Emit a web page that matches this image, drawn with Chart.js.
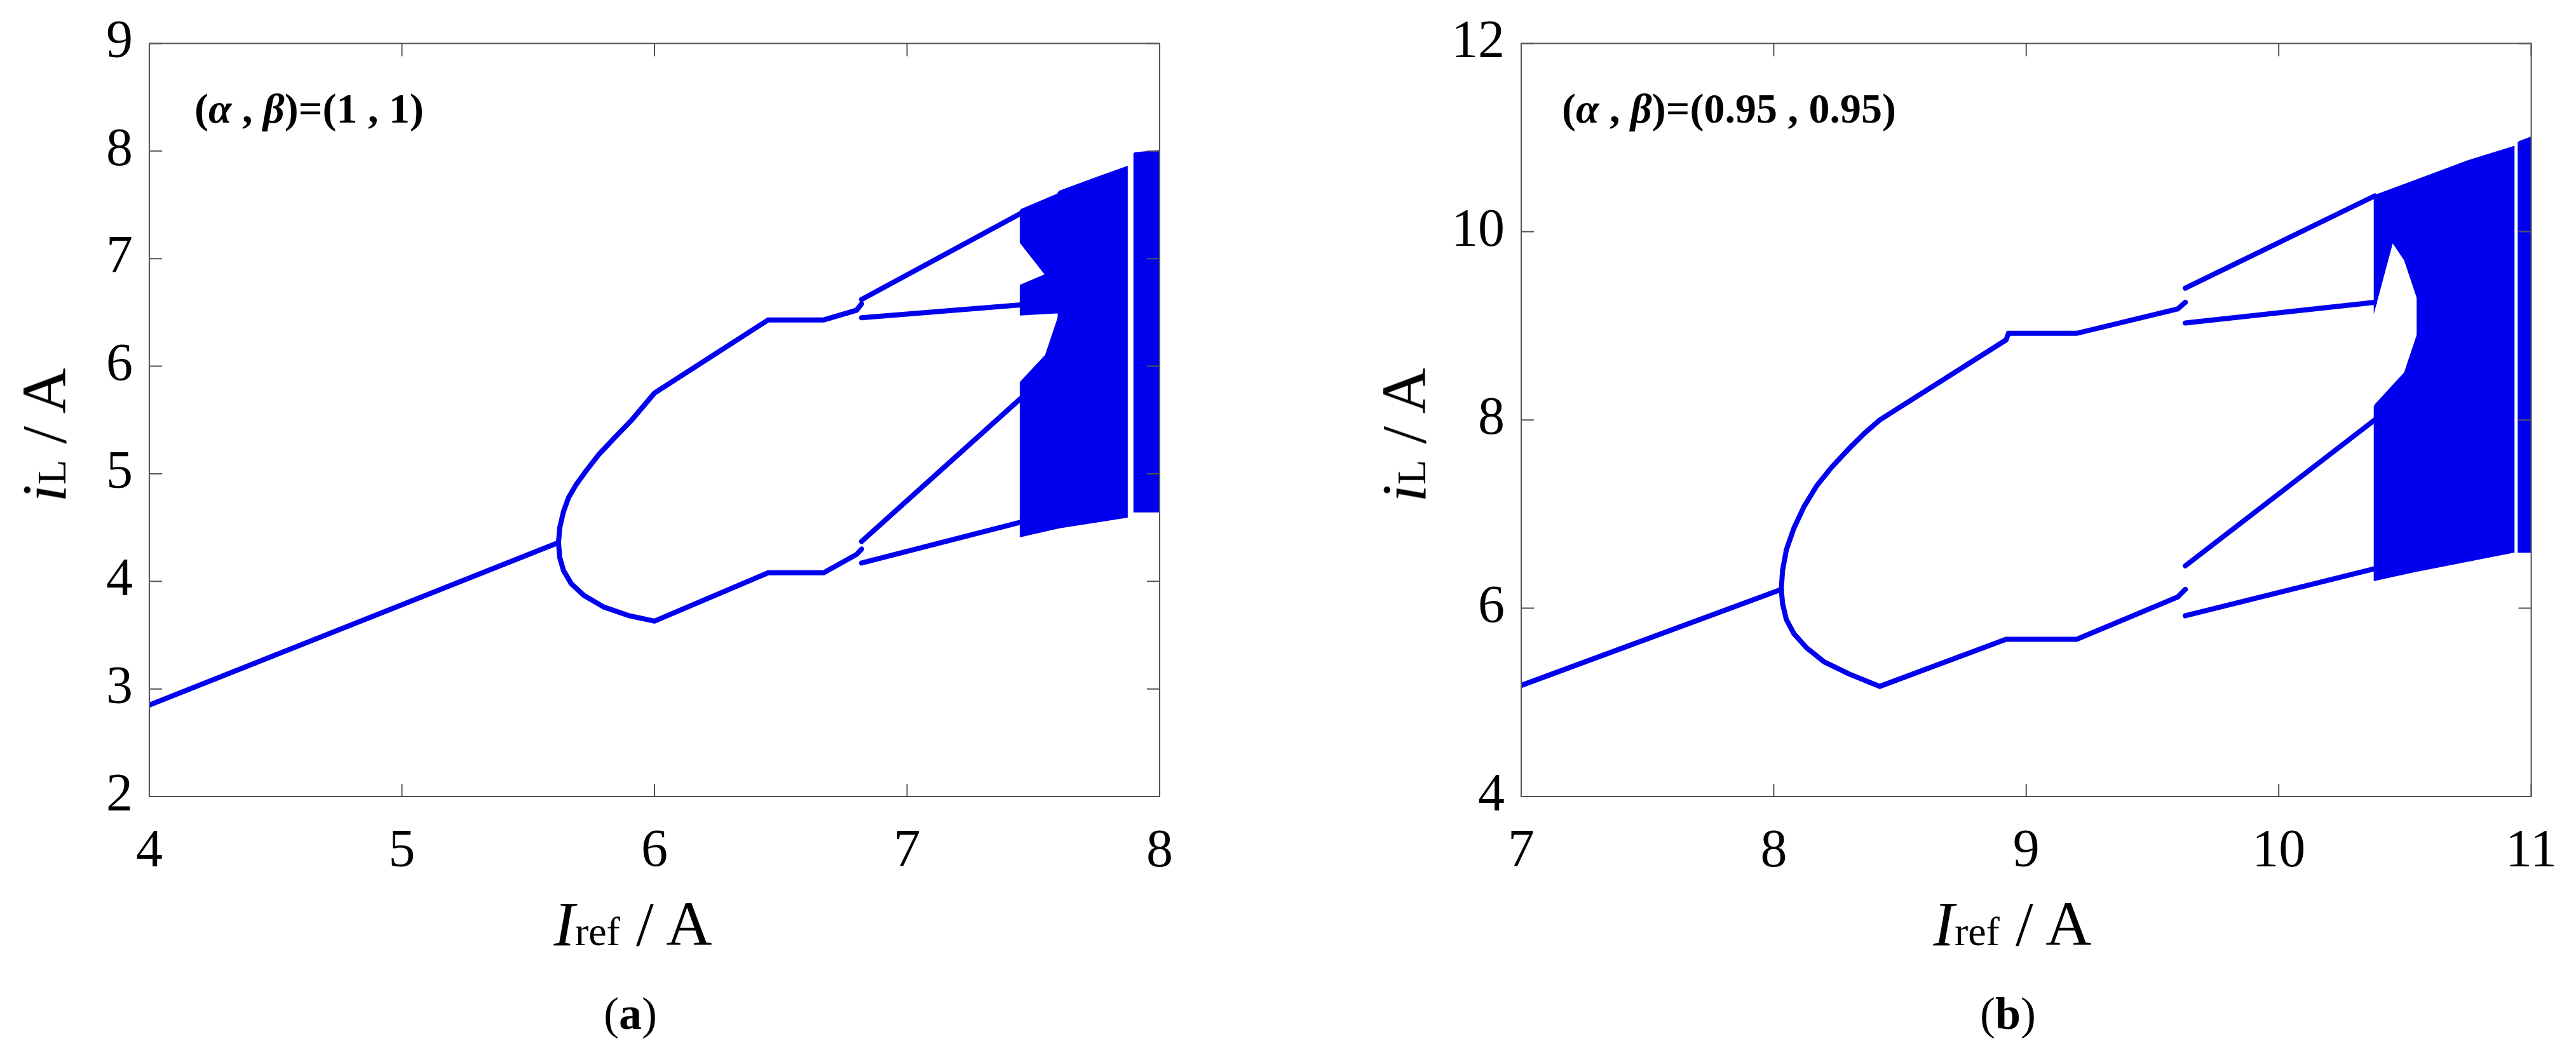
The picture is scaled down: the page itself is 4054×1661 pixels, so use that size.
<!DOCTYPE html>
<html>
<head>
<meta charset="utf-8">
<script src="https://cdn.jsdelivr.net/npm/chart.js@4.4.1/dist/chart.umd.min.js"></script>
<style>
  body { margin: 0; width: 4054px; height: 1661px; background: #fff; position: relative; overflow: hidden;
         font-family: "Liberation Serif", "DejaVu Serif", serif; }
  .panel { position: absolute; top: 0; height: 1400px; }
  .lbl { position: absolute; white-space: nowrap; color: #000; line-height: 1; }
  .xt { font-size: 100px; transform: translateX(-50%); }
  .yt { font-size: 100px; transform: translate(-50%, -50%) rotate(-90deg); }
  .sub { font-size: 64px; }
  .cap { font-size: 72px; transform: translateX(-50%); }
  .ann { font-size: 66px; font-weight: bold; }
</style>
</head>
<body>
<div class="panel" style="left:0;width:1876px"><canvas id="chartA"></canvas></div>
<div class="panel" style="left:2027px;width:2027px"><canvas id="chartB"></canvas></div>

<div class="lbl yt" style="left:70px;top:685px"><i>i</i><span class="sub">L</span> / A</div>
<div class="lbl xt" style="left:996px;top:1405px"><i>I</i><span class="sub">ref</span> / A</div>
<div class="lbl cap" style="left:992px;top:1560px">(<b>a</b>)</div>
<div class="lbl ann" style="left:306px;top:138px">(<i>α</i> , <i>β</i>)=(1 , 1)</div>

<div class="lbl yt" style="left:2210px;top:685px"><i>i</i><span class="sub">L</span> / A</div>
<div class="lbl xt" style="left:3167px;top:1405px"><i>I</i><span class="sub">ref</span> / A</div>
<div class="lbl cap" style="left:3160px;top:1560px">(<b>b</b>)</div>
<div class="lbl ann" style="left:2458px;top:138px">(<i>α</i> , <i>β</i>)=(0.95 , 0.95)</div>

<script>
// ---- panel (a): alpha = beta = 1 ----
const aXTicks = [4, 5, 6, 7, 8];
const aYTicks = [2, 3, 4, 5, 6, 7, 8, 9];
const aPeriod1 = [[4, 2.85], [5.62, 4.36]];
const aUpper = [[5.62, 4.36], [5.625, 4.5], [5.64, 4.65], [5.66, 4.78], [5.69, 4.9], [5.73, 5.03], [5.78, 5.18], [5.84, 5.33], [5.91, 5.5], [6.0, 5.75], [6.45, 6.43], [6.67, 6.43], [6.8, 6.52], [6.82, 6.58]];
const aLower = [[5.62, 4.36], [5.625, 4.22], [5.64, 4.1], [5.67, 3.98], [5.72, 3.87], [5.8, 3.76], [5.9, 3.68], [6.0, 3.63], [6.45, 4.08], [6.67, 4.08], [6.8, 4.25], [6.82, 4.3]];
const aUU = [[6.82, 6.62], [7.45, 7.42]];
const aUL = [[6.82, 6.45], [7.45, 6.57]];
const aLU = [[6.82, 4.37], [7.45, 5.7]];
const aLL = [[6.82, 4.17], [7.45, 4.55]];
const aChaos1 = [[7.45, 7.45], [7.6, 7.6], [7.6, 6.5], [7.45, 6.48], [7.45, 6.75], [7.55, 6.85], [7.45, 7.15]];
const aChaos2 = [[7.45, 5.85], [7.55, 6.1], [7.6, 6.45], [7.6, 4.5], [7.45, 4.42]];
const aChaos3 = [[7.6, 7.62], [7.75, 7.75], [7.87, 7.85], [7.87, 4.6], [7.6, 4.5]];
const aChaos4 = [[7.9, 7.98], [8.0, 8.0], [8.0, 4.65], [7.9, 4.65]];

// ---- panel (b): alpha = beta = 0.95 ----
const bXTicks = [7, 8, 9, 10, 11];
const bYTicks = [4, 6, 8, 10, 12];
const bPeriod1 = [[7, 5.18], [8.03, 6.2]];
const bUpper = [[8.03, 6.2], [8.035, 6.4], [8.05, 6.62], [8.08, 6.85], [8.12, 7.08], [8.17, 7.3], [8.23, 7.5], [8.3, 7.7], [8.36, 7.86], [8.42, 8.0], [8.92, 8.85], [8.93, 8.92], [9.2, 8.92], [9.6, 9.18], [9.63, 9.25]];
const bLower = [[8.03, 6.2], [8.035, 6.05], [8.05, 5.88], [8.08, 5.73], [8.13, 5.58], [8.2, 5.43], [8.3, 5.3], [8.42, 5.17], [8.92, 5.67], [9.2, 5.67], [9.6, 6.12], [9.63, 6.2]];
const bUU = [[9.63, 9.4], [10.38, 10.38]];
const bUL = [[9.63, 9.03], [10.38, 9.25]];
const bLU = [[9.63, 6.45], [10.38, 8.0]];
const bLL = [[9.63, 5.92], [10.38, 6.42]];
const bChaos1 = [[10.38, 10.38], [10.55, 10.55], [10.55, 9.3], [10.5, 9.7], [10.45, 9.9], [10.38, 9.2]];
const bChaos2 = [[10.38, 8.15], [10.5, 8.5], [10.55, 8.9], [10.55, 6.4], [10.38, 6.3]];
const bChaos3 = [[10.55, 10.55], [10.75, 10.75], [10.93, 10.9], [10.93, 6.6], [10.55, 6.4]];
const bChaos4 = [[10.95, 10.95], [11.0, 11.0], [11.0, 6.6], [10.95, 6.6]];

const BLUE = '#0000ee';

function pts(arr) { return arr.map(p => ({ x: p[0], y: p[1] })); }

function lineSet(arr) {
    return { data: pts(arr), showLine: true, borderColor: BLUE, borderWidth: 8, pointRadius: 0, fill: false, borderCapStyle: 'round' };
}

function chaosSet(arr) {
    const d = pts(arr);
    d.push(d[0]);
    return { data: d, showLine: true, borderColor: BLUE, borderWidth: 3, backgroundColor: BLUE, pointRadius: 0, fill: 'shape' };
}

// frame + inward tick marks on all four sides
const framePlugin = {
    id: 'frame',
    afterDraw(chart) {
        const { ctx, chartArea: a, scales } = chart;
        ctx.save();
        ctx.strokeStyle = '#555';
        ctx.lineWidth = 2;
        ctx.strokeRect(a.left, a.top, a.right - a.left, a.bottom - a.top);
        const len = 20;
        scales.x.ticks.forEach(t => {
            const px = scales.x.getPixelForValue(t.value);
            ctx.beginPath();
            ctx.moveTo(px, a.bottom); ctx.lineTo(px, a.bottom - len);
            ctx.moveTo(px, a.top); ctx.lineTo(px, a.top + len);
            ctx.stroke();
        });
        scales.y.ticks.forEach(t => {
            const py = scales.y.getPixelForValue(t.value);
            ctx.beginPath();
            ctx.moveTo(a.left, py); ctx.lineTo(a.left + len, py);
            ctx.moveTo(a.right, py); ctx.lineTo(a.right - len, py);
            ctx.stroke();
        });
        ctx.restore();
    }
};

function makeChart(id, sets, xTicks, yTicks, yAxisWidth, padRight) {
    new Chart(document.getElementById(id), {
        type: 'scatter',
        data: { datasets: sets },
        options: {
            responsive: true,
            maintainAspectRatio: false,
            animation: false,
            layout: { padding: { top: 50, right: padRight } },
            plugins: { legend: { display: false }, tooltip: { enabled: false } },
            scales: {
                x: {
                    min: xTicks[0], max: xTicks[xTicks.length - 1],
                    afterBuildTicks: s => { s.ticks = xTicks.map(v => ({ value: v })); },
                    afterFit: s => { s.height = 146; },
                    grid: { display: false },
                    border: { display: false },
                    ticks: { color: '#000', padding: 30, font: { family: 'Liberation Serif', size: 84 } }
                },
                y: {
                    min: yTicks[0], max: yTicks[yTicks.length - 1],
                    afterBuildTicks: s => { s.ticks = yTicks.map(v => ({ value: v })); },
                    afterFit: s => { s.width = yAxisWidth; },
                    grid: { display: false },
                    border: { display: false },
                    ticks: { color: '#000', padding: 18, font: { family: 'Liberation Serif', size: 84 } }
                }
            }
        },
        plugins: [framePlugin]
    });
}

makeChart('chartA', [
    lineSet(aPeriod1), lineSet(aUpper), lineSet(aLower),
    lineSet(aUU), lineSet(aUL), lineSet(aLU), lineSet(aLL),
    chaosSet(aChaos1), chaosSet(aChaos2), chaosSet(aChaos3), chaosSet(aChaos4)
], aXTicks, aYTicks, 235, 50);

makeChart('chartB', [
    lineSet(bPeriod1), lineSet(bUpper), lineSet(bLower),
    lineSet(bUU), lineSet(bUL), lineSet(bLU), lineSet(bLL),
    chaosSet(bChaos1), chaosSet(bChaos2), chaosSet(bChaos3), chaosSet(bChaos4)
], bXTicks, bYTicks, 367, 36);
</script>
</body>
</html>
